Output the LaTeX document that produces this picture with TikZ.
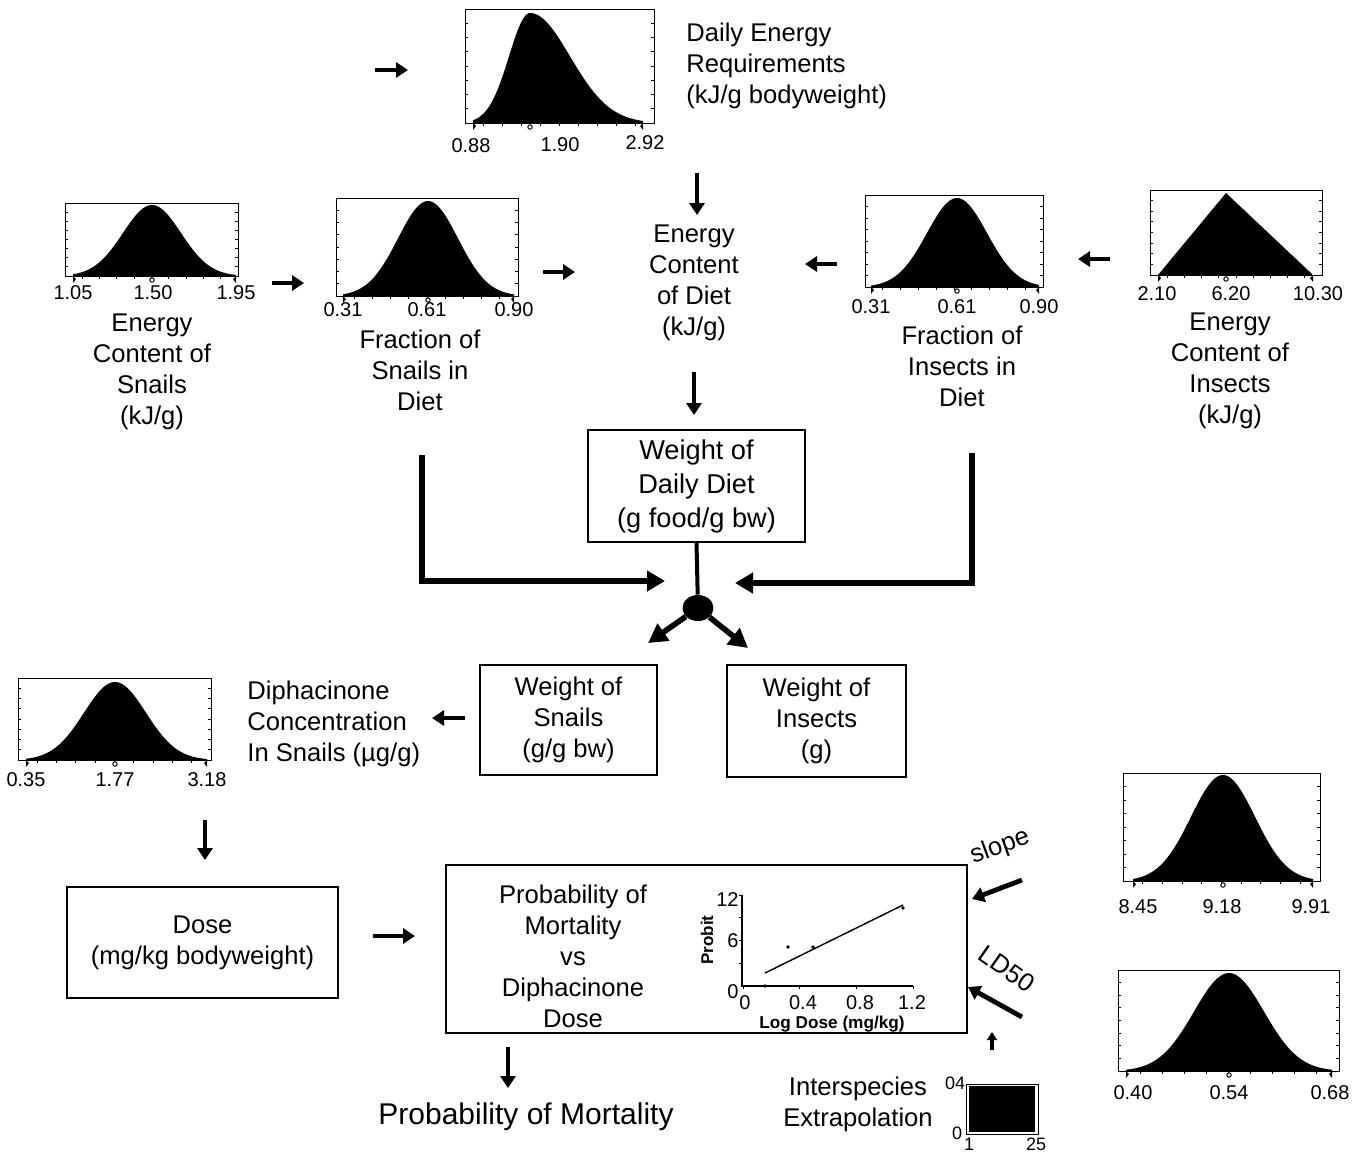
\documentclass[tikz,border=0pt]{standalone}
\usepackage{fontspec}
\setmainfont{Liberation Sans}
\usetikzlibrary{arrows.meta,shapes.geometric}
\newcommand{\distbox}[5]{%
  \draw[frame] (#2,#3) rectangle (#4,#5);
  \coordinate (#1) at ({(#2+#4)/2},{(#3+#5)/2});
  \foreach \k in {1,...,7}{
    \draw[frame] (#2,{#3+(#5-#3)*\k/8}) -- ++(3,0);
    \draw[frame] (#4,{#3+(#5-#3)*\k/8}) -- ++(-3,0);}
  \foreach \k in {1,...,9}{\draw[frame] ({#2+(#4-#2)*\k/10},#5) -- ++(0,3);}
}
\newcommand{\bellfill}[7]{%
  \fill (#1,#6) -- plot[domain=#1:#3,samples=40,smooth] (\x,{#6-(#6-#7)*exp(-0.5*((\x-#3)/#4)*((\x-#3)/#4))})
   -- plot[domain=#3:#2,samples=40,smooth] (\x,{#6-(#6-#7)*exp(-0.5*((\x-#3)/#5)*((\x-#3)/#5))}) -- (#2,#6) -- cycle;
}
\newcommand{\axmarks}[4]{% x1 mu x2 base
  \fill (#1,#4) -- ++(0,7) -- ++(3,-4) -- cycle;
  \fill (#3,#4) -- ++(0,7) -- ++(-3,-4) -- cycle;
  \draw[line width=0.5pt, fill=white] (#2,{#4+4}) circle (2.2);
}
\begin{document}
\begin{tikzpicture}[x=0.5pt,y=-0.5pt,
  frame/.style={line width=0.5pt},
  txt/.style={font=\fontsize{12.8}{15.5}\selectfont, align=center, inner sep=0pt},
  ticklbl/.style={font=\fontsize{10}{11}\selectfont, inner sep=0pt},
  smlbl/.style={font=\fontsize{9}{10}\selectfont, inner sep=0pt},
  plotlbl/.style={font=\fontsize{10}{11}\selectfont, inner sep=0pt},
  boxed/.style={draw, line width=1pt, inner sep=0pt, align=center, font=\fontsize{12.8}{15.5}\selectfont},
  sarrow/.style={line width=2.4pt, -{Triangle[length=6pt,width=7.5pt]}},
  tarrow/.style={line width=1.6pt, -{Triangle[length=4pt,width=5pt]}},
  barrow/.style={line width=3pt, line join=miter, -{Triangle[length=9pt,width=10pt]}},
  darrow/.style={line width=2.8pt, -{Triangle[length=9.5pt,width=10pt]}}]
\useasboundingbox (0,0) rectangle (1365,1152);

% ---------- distribution charts ----------
% top: daily energy
\distbox{cTop}{465}{9}{654}{123}
\bellfill{473}{643}{530}{21}{40}{123}{13}
\axmarks{473}{530}{643}{123}
\node[ticklbl] (tTa) at (471,146) {0.88};
\node[ticklbl] (tTb) at (560,145) {1.90};
\node[ticklbl] (tTc) at (645,143) {2.92};
% snail energy
\distbox{cSE}{65}{203}{238}{276}
\bellfill{73}{236}{152}{29}{29}{276}{205}
\axmarks{73}{152}{236}{276}
\node[ticklbl] (tSEa) at (73,293) {1.05};
\node[ticklbl] (tSEb) at (153,293) {1.50};
\node[ticklbl] (tSEc) at (236,293) {1.95};
% fraction snails
\distbox{cFS}{336}{198}{518}{296}
\bellfill{343}{514}{428}{30}{30}{296}{201}
\axmarks{343}{428}{514}{296}
\node[ticklbl] (tFSa) at (343,310) {0.31};
\node[ticklbl] (tFSb) at (427,310) {0.61};
\node[ticklbl] (tFSc) at (514,310) {0.90};
% fraction insects
\distbox{cFI}{865}{195}{1043}{287}
\bellfill{871}{1039}{957}{30}{30}{287}{198}
\axmarks{871}{957}{1039}{287}
\node[ticklbl] (tFIa) at (871,307) {0.31};
\node[ticklbl] (tFIb) at (957,307) {0.61};
\node[ticklbl] (tFIc) at (1039,307) {0.90};
% insect energy (triangular)
\distbox{cIE}{1150}{190}{1322}{275}
\fill (1158,275) -- (1226,193) -- (1313,275) -- cycle;
\axmarks{1158}{1226}{1313}{275}
\node[ticklbl] (tIEa) at (1157,294) {2.10};
\node[ticklbl] (tIEb) at (1231,294) {6.20};
\node[ticklbl] (tIEc) at (1318,294) {10.30};
% diphacinone concentration
\distbox{cDC}{18}{678}{211}{760}
\bellfill{26}{207}{115}{31}{31}{760}{682}
\axmarks{26}{115}{207}{760}
\node[ticklbl] (tDCa) at (26,780) {0.35};
\node[ticklbl] (tDCb) at (115,780) {1.77};
\node[ticklbl] (tDCc) at (207,780) {3.18};
% slope
\distbox{cSL}{1123}{773}{1320}{881}
\bellfill{1133}{1313}{1223}{32}{32}{881}{775}
\axmarks{1133}{1223}{1313}{881}
\node[ticklbl] (tSLa) at (1138,907) {8.45};
\node[ticklbl] (tSLb) at (1222,907) {9.18};
\node[ticklbl] (tSLc) at (1311,907) {9.91};
% LD50
\distbox{cLD}{1118}{970}{1339}{1071}
\bellfill{1126}{1332}{1229}{35}{35}{1071}{973}
\axmarks{1126}{1229}{1332}{1071}
\node[ticklbl] (tLDa) at (1133,1093) {0.40};
\node[ticklbl] (tLDb) at (1229,1093) {0.54};
\node[ticklbl] (tLDc) at (1330,1093) {0.68};
% interspecies uniform
\draw[frame] (966,1084) rectangle (1038,1134);
\coordinate (cIS) at (1002,1109);
\fill (969,1086) rectangle (1035,1132);
\node[smlbl] (tISa) at (955,1083) {04};
\node[smlbl] (tISb) at (957,1133) {0};
\node[smlbl, anchor=north] (tISc) at (969,1138) {1};
\node[smlbl, anchor=north] (tISd) at (1036,1138) {25};

% ---------- texts ----------
\node[txt, align=left, anchor=west] (der) at (686,66) {Daily Energy\\Requirements\\(kJ/g bodyweight)};
\node[txt] (ecd) at (694,283) {Energy\\Content\\of Diet\\(kJ/g)};
\node[txt] (ecs) at (152,372) {Energy\\Content of\\Snails\\(kJ/g)};
\node[txt] (fs) at (420,370) {Fraction of\\Snails in\\Diet};
\node[txt] (fi) at (962,366) {Fraction of\\Insects in\\Diet};
\node[txt] (eci) at (1230,371) {Energy\\Content of\\Insects\\(kJ/g)};
\node[boxed, minimum width=108.5pt, minimum height=56pt, font=\fontsize{13.6}{17}\selectfont] (wdd) at (696.5,486) {Weight of\\Daily Diet\\(g food/g bw)};
\node[ellipse, fill, minimum width=15.5pt, minimum height=13pt, inner sep=0pt] (dot) at (698,608) {};
\node[boxed, minimum width=88.5pt, minimum height=55pt] (ws) at (568.5,720) {Weight of\\Snails\\(g/g bw)};
\node[boxed, minimum width=89.5pt, minimum height=56pt] (wi) at (816.5,721) {Weight of\\Insects\\(g)};
\node[txt, align=left, anchor=west] (dcs) at (247,724) {Diphacinone\\Concentration\\In Snails (µg/g)};
\node[boxed, minimum width=135.5pt, minimum height=55.5pt] (dose) at (202.5,942.5) {Dose\\(mg/kg bodyweight)};
\node[boxed, minimum width=260.5pt, minimum height=84pt] (pm) at (706.5,949) {};
\node[txt] (pmt) at (573,956) {Probability of\\Mortality\\vs\\Diphacinone\\Dose};
\node[txt, font=\fontsize{15}{18}\selectfont] (pmo) at (526,1117) {Probability of Mortality};
\node[txt, rotate=20] (slope) at (1000,847) {slope};
\node[txt, rotate=-35] (ld50) at (1007,969) {LD50};
\node[txt] (ie) at (858,1104) {Interspecies\\Extrapolation};

% ---------- probit inset ----------
\draw[line width=0.6pt] (742,895) -- (742,986) -- (913,986);
\foreach \yy in {895,917.75,940.5,963.25} {\draw[line width=0.5pt] (742,\yy) -- ++(-3,0);}
\foreach \xx in {743,799.7,856.3,913} {\draw[line width=0.5pt] (\xx,986) -- ++(0,3);}
\node[plotlbl, anchor=east] (yl12) at (739,900) {12};
\node[plotlbl, anchor=east] (yl6) at (739,941) {6};
\node[plotlbl, anchor=east] (yl0) at (739,992) {0};
\node[plotlbl] (xl0) at (745,1003) {0};
\node[plotlbl] (xl4) at (803,1003) {0.4};
\node[plotlbl] (xl8) at (860,1003) {0.8};
\node[plotlbl] (xl12) at (912,1003) {1.2};
\node[inner sep=0pt, rotate=90, font=\fontsize{8.5}{10}\selectfont\bfseries] (probit) at (707,940) {Probit};
\node[inner sep=0pt, font=\fontsize{8.6}{10}\selectfont\bfseries] (logdose) at (832,1024) {Log Dose (mg/kg)};
\coordinate (fitA) at (765,973);
\coordinate (fitB) at (903,905);
\draw[line width=0.7pt] (fitA) -- (fitB);
\foreach \px/\py in {765/986,788/947,813/947,903/908} {\fill (\px,\py) circle (1.8);}

% ---------- small arrows ----------
\coordinate (a1s) at (375,70);   \coordinate (a1e) at (408,70);
\coordinate (a2s) at (697,173);  \coordinate (a2e) at (697,215);
\coordinate (a3s) at (272,283);  \coordinate (a3e) at (304,283);
\coordinate (a4s) at (543,272);  \coordinate (a4e) at (575,272);
\coordinate (a5s) at (837,264);  \coordinate (a5e) at (805,264);
\coordinate (a6s) at (1110,259); \coordinate (a6e) at (1078,259);
\coordinate (a7s) at (694,372);  \coordinate (a7e) at (694,415);
\coordinate (a8s) at (465,718);  \coordinate (a8e) at (432,718);
\coordinate (a9s) at (205,820);  \coordinate (a9e) at (205,860);
\coordinate (a10s) at (373,936); \coordinate (a10e) at (415,936);
\coordinate (a11s) at (508,1047);\coordinate (a11e) at (508,1088);
\coordinate (a12s) at (1022,880);\coordinate (a12e) at (972,899);
\coordinate (a13s) at (1022,1017);\coordinate (a13e) at (968,987);
\coordinate (a14s) at (992,1050);\coordinate (a14e) at (992,1032);
\foreach \a in {1,...,13} {\draw[sarrow] (a\a s) -- (a\a e);}
\draw[tarrow] (a14s) -- (a14e);

% ---------- thick connectors ----------
\coordinate (fsl) at (422,455);  \coordinate (fsr) at (665,581);
\coordinate (fil) at (972,453);  \coordinate (fir) at (735,583);
\draw[barrow] (fsl) |- (fsr);
\draw[barrow] (fil) |- (fir);
\draw[line width=2pt] (wdd.south) -- (dot);
\coordinate (dl) at (648,643);   \coordinate (dr) at (748,648);
\draw[darrow] (dot) -- (dl);
\draw[darrow] (dot) -- (dr);
\end{tikzpicture}
\end{document}
